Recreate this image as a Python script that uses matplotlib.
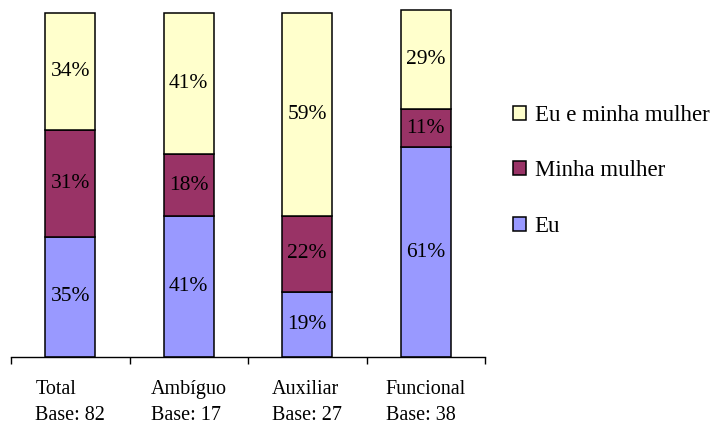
import numpy as np
import matplotlib.pyplot as plt

plt.rcParams['font.family'] = ['Liberation Serif', 'DejaVu Serif']

categories = ["Total\nBase: 82", "Ambíguo\nBase: 17", "Auxiliar\nBase: 27", "Funcional\nBase: 38"]
series_names = ["Eu", "Minha mulher", "Eu e minha mulher"]
eu = [35, 41, 19, 61]
minha = [31, 18, 22, 11]
ambos = [34, 41, 59, 29]
colors = ["#9999FF", "#993366", "#FFFFCC"]

fig = plt.figure(figsize=(7.19, 4.25), dpi=100)
ax = fig.add_axes([11/719, 68/425, 474/719, 344/425])

x = np.arange(len(categories))
bottom = np.zeros(len(categories))
handles = []
for name, vals, col in zip(series_names, [eu, minha, ambos], colors):
    bars = ax.bar(x, vals, width=0.42, bottom=bottom, color=col,
                  edgecolor="black", linewidth=1.1, label=name, clip_on=False)
    handles.append(bars)
    for xi, b, v in zip(x, bottom, vals):
        ax.text(xi, b + v / 2, f"{v}%", ha="center", va="center", fontsize=15.5)
    bottom += np.array(vals)

ax.set_xlim(-0.5, len(categories) - 0.5)
ax.set_ylim(0, 100)
for s in ["top", "right", "left"]:
    ax.spines[s].set_visible(False)
ax.spines["bottom"].set_linewidth(1.0)
ax.set_yticks([])
ax.set_xticks(np.arange(-0.5, len(categories), 1.0))
ax.set_xticklabels([])
ax.tick_params(axis="x", length=5, width=1.0, direction="out")
for xi, lab in zip(x, categories):
    ax.text(xi, -0.068, lab, transform=ax.get_xaxis_transform(), ha="center", va="top",
            multialignment="left", fontsize=14.5, linespacing=1.45)

fig.legend(handles[::-1], series_names[::-1], loc="upper left",
           bbox_to_anchor=(513/719, 1 - 105/425), frameon=False, fontsize=16.5,
           handlelength=0.55, handleheight=0.55, handletextpad=0.4,
           labelspacing=1.5, borderaxespad=0, borderpad=0)

fig.savefig("out.png", dpi=100)
